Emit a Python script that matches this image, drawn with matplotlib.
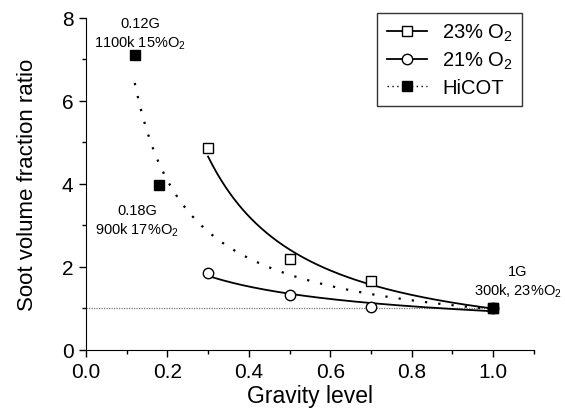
import numpy as np
import matplotlib.pyplot as plt
from matplotlib.ticker import MultipleLocator

plt.rcParams['font.family'] = ['Liberation Sans', 'DejaVu Sans']
plt.rcParams['mathtext.fontset'] = 'custom'
plt.rcParams['mathtext.rm'] = 'Liberation Sans'

# data
g23 = [0.3, 0.5, 0.7, 1.0]
r23 = [4.87, 2.18, 1.65, 1.0]
g21 = [0.3, 0.5, 0.7, 1.0]
r21 = [1.85, 1.33, 1.02, 1.0]
g_hicot = [0.12, 0.18, 1.0]
r_hicot = [7.1, 3.97, 1.0]
ref_level = 1.0


def power_fit(x, y):
    # y = a*x^b, fitted on log scale
    b, ln_a = np.polyfit(np.log(x), np.log(y), 1)
    return lambda xx: np.exp(ln_a) * xx ** b


fig, ax = plt.subplots(figsize=(5.65, 4.1), dpi=100)
fig.subplots_adjust(left=0.152, right=0.945, bottom=0.1446, top=0.9537)

ax.hlines(ref_level, 0, max(g23), color='#777777', lw=0.9, ls=(0, (1, 1)), zorder=1)

for gx, ry in [(g23, r23), (g21, r21)]:
    f = power_fit(gx, ry)
    xs = np.linspace(min(gx), max(gx), 200)
    ax.plot(xs, f(xs), color='black', lw=1.3)
fh = power_fit(g_hicot, r_hicot)
xs = np.linspace(min(g_hicot), max(g_hicot), 200)
ax.plot(xs, fh(xs), color='black', lw=1.6, ls=(0, (1, 5)))

ax.plot(g23, r23, ls='none', marker='s', ms=7, mfc='white', mec='black', mew=1, zorder=3)
ax.plot(g21, r21, ls='none', marker='o', ms=7.5, mfc='white', mec='black', mew=1, zorder=3)
ax.plot(g_hicot, r_hicot, ls='none', marker='s', ms=7.5, mfc='black', mec='black', zorder=4)

# legend proxies
h1, = ax.plot([], [], color='black', lw=1.3, marker='s', ms=7, mfc='white', mec='black')
h2, = ax.plot([], [], color='black', lw=1.3, marker='o', ms=7.5, mfc='white', mec='black')
h3, = ax.plot([], [], color='black', lw=1, ls=(0, (1, 2.5)), marker='s', ms=7.5, mfc='black')
leg = ax.legend([h1, h2, h3], ['23% O$_2$', '21% O$_2$', 'HiCOT'], loc='upper right',
                bbox_to_anchor=(0.973, 1.015), borderaxespad=0, fontsize=14.5, frameon=True,
                fancybox=False, edgecolor='black', handlelength=2.0, borderpad=0.45,
                labelspacing=0.32, handletextpad=0.75)
leg.get_frame().set_linewidth(1.0)

ax.text(0.133, 7.2, '0.12G\n1100k 15%O$_2$', ha='center', va='bottom', fontsize=10.5, linespacing=1.3)
ax.text(0.126, 2.69, '0.18G\n900k 17%O$_2$', ha='center', va='bottom', fontsize=10.5, linespacing=1.3)
ax.text(1.061, 1.22, '1G\n300k, 23%O$_2$', ha='center', va='bottom', fontsize=10.5, linespacing=1.3)

ax.set_xlim(0, 1.1)
ax.set_ylim(0, 8)
ax.xaxis.set_major_locator(MultipleLocator(0.2))
ax.xaxis.set_minor_locator(MultipleLocator(0.1))
ax.yaxis.set_major_locator(MultipleLocator(2))
ax.yaxis.set_minor_locator(MultipleLocator(1))
ax.xaxis.set_major_formatter(plt.FormatStrFormatter('%.1f'))
ax.tick_params(which='major', direction='out', length=5, width=1, labelsize=15, pad=4)
ax.tick_params(which='minor', direction='out', length=3, width=1)
ax.spines['top'].set_visible(False)
ax.spines['right'].set_visible(False)
ax.set_xlabel('Gravity level', fontsize=16.5, labelpad=2)
ax.set_ylabel('Soot volume fraction ratio', fontsize=16, labelpad=17)

plt.savefig('out.png', dpi=100)
